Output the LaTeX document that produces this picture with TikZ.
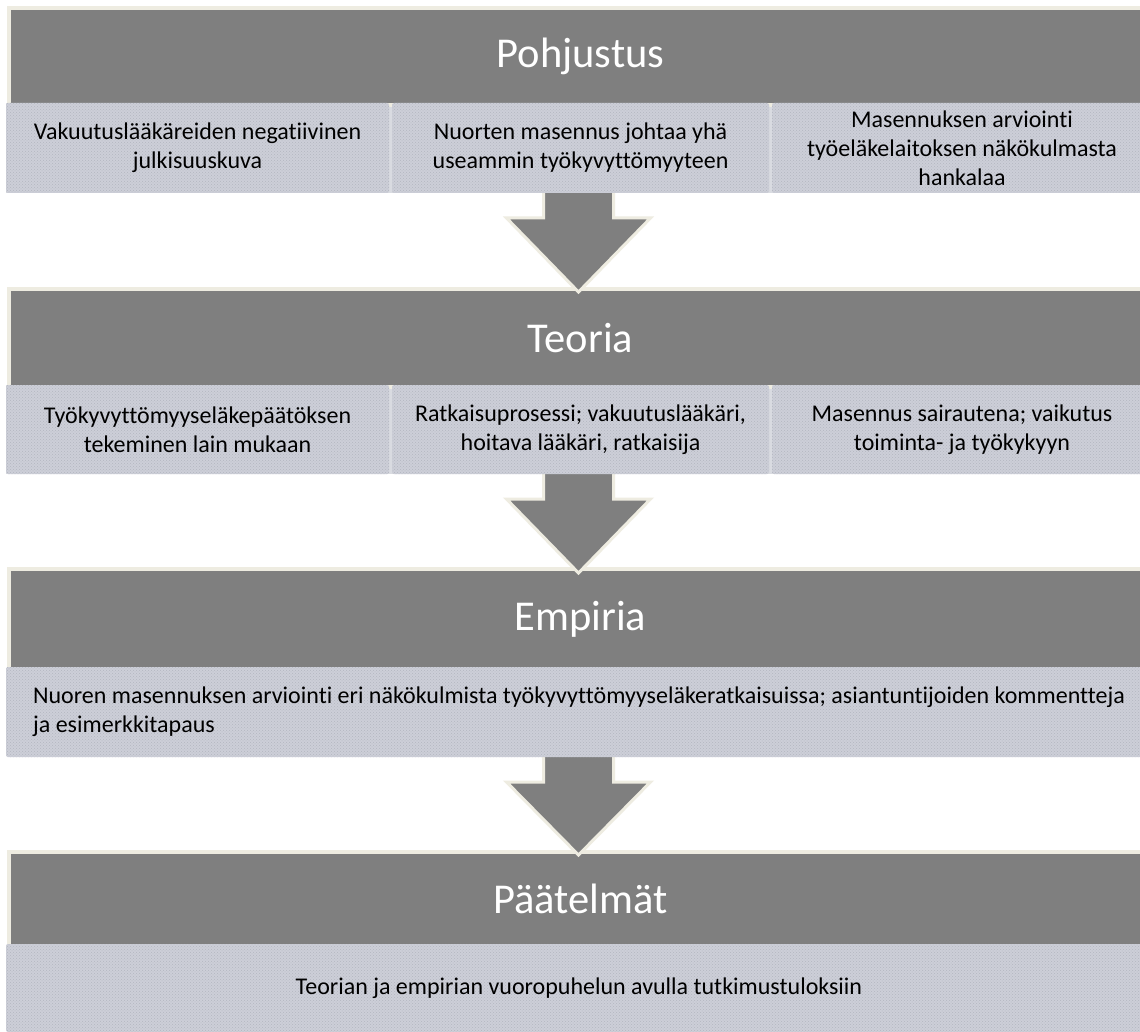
\documentclass[tikz,border=0pt]{standalone}
\usepackage{fontspec}
\setmainfont{Carlito}[Ligatures={NoCommon}]
\usetikzlibrary{calc,patterns}
\definecolor{hdrgray}{HTML}{7F7F7F}
\definecolor{cream}{HTML}{EEECE1}
\definecolor{subfill}{HTML}{CDCFD8}
\definecolor{subdot}{HTML}{B3B6C0}
\definecolor{seam}{HTML}{D9DBE1}
\pgfdeclarelayer{back}
\pgfdeclarelayer{hdrlayer}
\pgfdeclarelayer{arrlayer}
\pgfsetlayers{back,hdrlayer,arrlayer,main}
\begin{document}
\begin{tikzpicture}[x=1pt,y=-1pt,
  hdr/.style={draw=cream, line width=4pt, fill=hdrgray, anchor=north west,
    minimum width=1143pt, outer sep=0pt, inner sep=0pt, text=white,
    font=\fontsize{42.5}{50}\selectfont},
  subbox/.style={anchor=north west, rounded corners=2pt, inner sep=0pt, outer sep=0pt,
    preaction={fill=subfill}, pattern=crosshatch dots, pattern color=subdot,
    font=\fontsize{24}{29}\selectfont, align=center, text=black},
  seamfill/.style={fill=seam},
  arrowshape/.style={fill=hdrgray, draw=cream, line width=3pt, line join=miter}
]
\useasboundingbox (0,0) rectangle (1140,1032);
\begin{pgfonlayer}{back}
  \fill[white] (0,0) rectangle (1140,1032);
  \fill[seamfill] (6,103) rectangle (1150,193);
  \fill[seamfill] (6,385) rectangle (1150,474);
\end{pgfonlayer}

% headers
\begin{pgfonlayer}{hdrlayer}
\node[hdr, minimum height=97pt] (h1) at (9,8) {Pohjustus};
\node[hdr, minimum height=98pt] (h2) at (9,289) {Teoria};
\node[hdr, minimum height=100pt] (h3) at (9,569) {Empiria};
\node[hdr, minimum height=94pt] (h4) at (9,852) {Päätelmät};
\end{pgfonlayer}

% sub boxes
\node[subbox, minimum width=383pt, minimum height=90pt] (s11) at (6,103)
  {Vakuutuslääkäreiden negatiivinen\\julkisuuskuva};
\node[subbox, minimum width=377pt, minimum height=90pt] (s12) at (392,103)
  {Nuorten masennus johtaa yhä\\useammin työkyvyttömyyteen};
\node[subbox, minimum width=380pt, minimum height=90pt] (s13) at (772,103)
  {Masennuksen arviointi\\työeläkelaitoksen näkökulmasta\\hankalaa};

\node[subbox, minimum width=383pt, minimum height=89pt] (s21) at (6,385)
  {Työkyvyttömyyseläkepäätöksen\\tekeminen lain mukaan};
\node[subbox, minimum width=377pt, minimum height=89pt] (s22) at (392,385)
  {Ratkaisuprosessi; vakuutuslääkäri,\\hoitava lääkäri, ratkaisija};
\node[subbox, minimum width=380pt, minimum height=89pt] (s23) at (772,385)
  {Masennus sairautena; vaikutus\\toiminta- ja työkykyyn};

\node[subbox, align=left, minimum width=1146pt, minimum height=90pt] (s31) at (6,667)
  {Nuoren masennuksen arviointi eri näkökulmista työkyvyttömyyseläkeratkaisuissa; asiantuntijoiden kommentteja\\ja esimerkkitapaus};

\node[subbox, minimum width=1146pt, minimum height=88pt] (s41) at (6,944)
  {Teorian ja empirian vuoropuhelun avulla tutkimustuloksiin};

% arrows
\coordinate (t1) at ($(h2.north)+(-2,3)$);
\coordinate (b1) at (t1 |- s12.south);
\coordinate (t2) at ($(h3.north)+(-2,4)$);
\coordinate (b2) at (t2 |- s22.south);
\coordinate (t3) at ($(h4.north)+(-2,3)$);
\coordinate (b3) at (t3 |- s31.south);
\begin{pgfonlayer}{arrlayer}
\foreach \t/\b in {t1/b1,t2/b2,t3/b3}{
  \filldraw[arrowshape] ($(\b)+(-35,-6)$) -- ($(\b)+(-35,25)$) -- ($(\b)+(-72,25)$)
    -- (\t) -- ($(\b)+(72,25)$) -- ($(\b)+(35,25)$) -- ($(\b)+(35,-6)$) -- cycle;
}
\end{pgfonlayer}
\end{tikzpicture}
\end{document}
